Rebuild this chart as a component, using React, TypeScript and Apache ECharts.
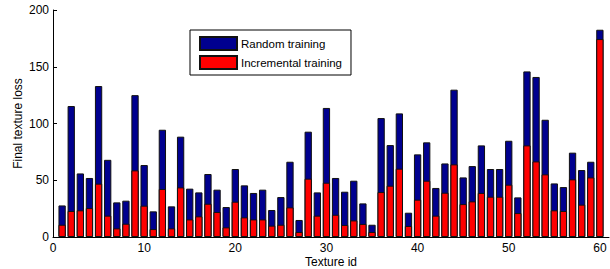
import React, { useEffect, useRef } from "react";
import * as echarts from "echarts";

const textureIds: number[] = Array.from({ length: 60 }, (_, i) => i + 1);

const randomTraining: number[] = [
  27.8, 115.4, 56, 52, 133, 68, 30.5, 32, 125, 63.4,
  22.6, 94.5, 27, 88.4, 42.6, 39.3, 55.5, 41.7, 26.4, 59.9,
  45.5, 38.8, 41.7, 23.8, 35.2, 66.3, 15, 92.8, 39.3, 113.7,
  52, 39.9, 49.6, 29.6, 10.8, 104.8, 81, 108.9, 21.4, 72.8,
  83.4, 43.2, 64.8, 129.8, 52.5, 62.5, 80.7, 59.9, 59.9, 84.8,
  34.9, 145.9, 141, 103.3, 47.2, 44, 74.3, 59, 66.3, 182.6,
];

const incrementalTraining: number[] = [
  10.8, 22.9, 23.5, 25.5, 47, 18.8, 7.6, 11.7, 58.7, 27.6,
  7, 42.3, 7.6, 43.7, 15.5, 18.2, 29.3, 22, 8.5, 31.1,
  17.3, 15.5, 15.5, 10, 10.8, 26.1, 4.4, 51.4, 18.8, 47.8,
  19.6, 10.6, 14.6, 11.5, 4.4, 39.6, 45.2, 60.2, 9.7, 32.9,
  49.6, 18.8, 39, 64, 29, 31.4, 38.8, 35.5, 35.5, 46.1,
  21.1, 80.7, 66.6, 55.2, 23.5, 22.9, 50.8, 28.5, 52.5, 174.4,
];

const yTicks: number[] = [0, 50, 100, 150, 200];
const xTicks: number[] = [0, 10, 20, 30, 40, 50, 60];

const FONT = "Arial, 'Liberation Sans', Helvetica, sans-serif";

export default function App() {
  const ref = useRef<HTMLDivElement>(null);

  useEffect(() => {
    if (!ref.current) return;
    const chart = echarts.init(ref.current, undefined, { renderer: "svg" });
    const barStyle = (color: string) => ({
      color,
      borderColor: "#111",
      borderWidth: 1,
    });
    chart.setOption({
      animation: false,
      backgroundColor: "#fff",
      textStyle: { fontFamily: FONT },
      grid: {
        left: 53,
        right: 1,
        top: 10,
        bottom: 32,
        containLabel: false,
        outerBoundsMode: "none",
      },
      legend: {
        orient: "vertical",
        left: 190,
        top: 30,
        padding: [6, 9, 5, 9],
        itemWidth: 37,
        itemHeight: 13,
        itemGap: 4,
        borderColor: "#000",
        borderWidth: 1,
        borderRadius: 0,
        backgroundColor: "#fff",
        icon: "rect",
        textStyle: { fontFamily: FONT, fontSize: 11.5, color: "#000", padding: [0, 0, 0, -1] },
        data: ["Random training", "Incremental training"],
      },
      xAxis: {
        type: "value",
        min: 0,
        max: 61,
        interval: 10,
        name: "Texture id",
        nameLocation: "middle",
        nameGap: 19,
        nameMoveOverlap: false,
        nameTextStyle: { fontFamily: FONT, fontSize: 12, color: "#000" },
        axisLine: { show: true, lineStyle: { color: "#000", width: 1 } },
        axisTick: { show: false },
        splitLine: { show: false },
        axisLabel: {
          fontFamily: FONT,
          fontSize: 12,
          color: "#000",
          margin: 5,
          formatter: (v: number) => (xTicks.includes(v) ? String(v) : ""),
        },
      },
      yAxis: {
        type: "value",
        min: yTicks[0],
        max: yTicks[yTicks.length - 1],
        interval: 50,
        name: "Final texture loss",
        nameLocation: "middle",
        nameGap: 29,
        nameMoveOverlap: false,
        nameTextStyle: { fontFamily: FONT, fontSize: 12, color: "#000" },
        axisLine: { show: true, lineStyle: { color: "#000", width: 1 } },
        axisTick: { show: true, inside: true, length: 4, lineStyle: { color: "#000" } },
        splitLine: { show: false },
        axisLabel: { fontFamily: FONT, fontSize: 12, color: "#000", margin: 4 },
      },
      series: [
        {
          name: "Random training",
          type: "bar",
          barWidth: 7.3,
          barGap: "-100%",
          itemStyle: barStyle("#00008f"),
          data: textureIds.map((id, i) => [id, randomTraining[i]]),
        },
        {
          name: "Incremental training",
          type: "bar",
          barWidth: 7.3,
          barGap: "-100%",
          itemStyle: barStyle("#ff0000"),
          data: textureIds.map((id, i) => [id, incrementalTraining[i]]),
        },
      ],
    });
    return () => chart.dispose();
  }, []);

  return <div ref={ref} style={{ width: 610, height: 269, position: "absolute", left: 0, top: 0 }} />;
}
